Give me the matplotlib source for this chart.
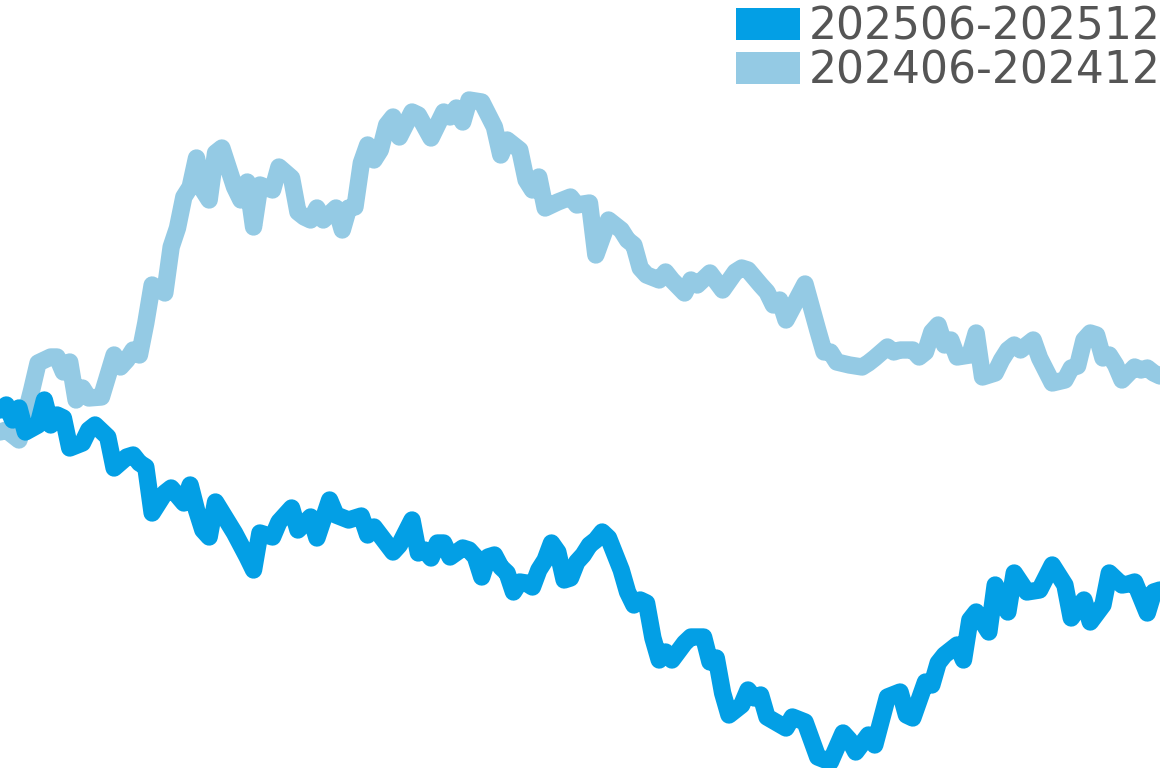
import matplotlib
matplotlib.use("Agg")
import matplotlib.pyplot as plt
from matplotlib.patches import Rectangle

# Series labels and colours
labels = ["202506-202512", "202406-202412"]
colors = ["#039FE5", "#94CAE4"]

# 202406-202412 : day offset from start, cumulative change (%)
days_2024 = [0, 1, 3, 5, 6, 8, 9, 10, 11, 12, 13, 14, 16, 18, 19, 20, 21, 22, 23, 24,
             26, 27, 28, 29, 30, 31, 32, 33, 34, 35, 37, 38, 39, 40, 41, 43, 44, 46, 47, 48,
             49, 50, 51, 53, 54, 55, 56, 57, 58, 59, 60, 61, 62, 63, 65, 66, 68, 70, 71, 72,
             73, 74, 76, 78, 79, 80, 82, 83, 84, 85, 86, 88, 90, 91, 93, 94, 96, 98, 99, 100,
             101, 102, 104, 105, 106, 108, 109, 110, 112, 114, 116, 117, 118, 120, 121, 122, 123, 124, 127, 129,
             130, 131, 132, 134, 136, 137, 138, 140, 141, 142, 144, 145, 146, 147, 148, 149, 150, 151, 153, 154,
             155, 157, 158, 159, 160, 161, 163, 164, 166, 168, 169, 170, 171, 172, 173, 174, 175, 176, 177, 179,
             180, 181, 182, 183]
vals_2024 = [-0.85, -0.75, -1.25, 1.25, 2.60, 2.90, 2.90, 2.15, 2.65, 0.75, 1.35, 0.85, 0.90, 3.00, 2.40, 2.75, 3.25, 3.00, 4.60, 6.50,
             6.10, 8.40, 9.35, 10.90, 11.40, 12.85, 11.25, 10.75, 13.10, 13.35, 11.40, 10.75, 11.65, 9.40, 11.50, 11.25, 12.40, 11.85, 10.15, 9.90,
             9.75, 10.35, 9.75, 10.35, 9.25, 10.35, 10.40, 12.60, 13.50, 12.75, 13.25, 14.50, 14.90, 13.90, 15.15, 15.00, 13.85, 15.15, 14.90, 15.35,
             14.65, 15.75, 15.65, 14.40, 13.00, 13.75, 13.25, 11.75, 11.25, 11.90, 10.35, 10.65, 10.90, 10.50, 10.60, 8.00, 9.75, 9.25, 8.75, 8.50,
             7.35, 7.00, 6.75, 7.15, 6.75, 6.10, 6.75, 6.50, 7.10, 6.25, 7.15, 7.35, 7.25, 6.50, 6.15, 5.50, 5.75, 4.75, 6.55, 4.25,
             3.15, 3.15, 2.65, 2.50, 2.40, 2.60, 2.85, 3.40, 3.15, 3.25, 3.25, 2.90, 3.15, 4.15, 4.50, 3.50, 3.75, 2.90, 3.00, 4.10,
             1.90, 2.10, 2.75, 3.25, 3.50, 3.25, 3.75, 2.85, 1.60, 1.75, 2.35, 2.45, 3.75, 4.10, 4.00, 2.85, 3.00, 2.50, 1.75, 2.40,
             2.25, 2.35, 2.10, 1.95]

# 202506-202512 : day offset from start, cumulative change (%)
days_2025 = [0, 1, 2, 3, 4, 6, 7, 8, 9, 10, 11, 13, 14, 15, 17, 18, 20, 21, 22, 23,
             24, 26, 27, 29, 30, 31, 32, 33, 34, 37, 38, 39, 40, 41, 43, 44, 46, 47, 49, 50,
             52, 53, 55, 57, 58, 59, 62, 63, 65, 66, 67, 68, 69, 70, 71, 73, 74, 75, 76, 77,
             78, 79, 80, 81, 82, 83, 84, 85, 86, 87, 88, 89, 90, 91, 92, 93, 94, 95, 96, 98,
             99, 100, 101, 102, 103, 104, 105, 106, 108, 109, 111, 112, 113, 114, 115, 117, 118, 119, 120, 121,
             124, 125, 127, 129, 131, 133, 134, 135, 137, 138, 140, 142, 143, 144, 146, 147, 148, 149, 151, 152,
             153, 154, 156, 157, 159, 160, 162, 164, 166, 168, 169, 171, 172, 174, 175, 177, 178, 179, 181, 182,
             183]
vals_2025 = [0.25, 0.50, -0.25, 0.35, -0.85, -0.50, 0.75, -0.50, 0.00, -0.15, -1.65, -1.40, -0.75, -0.50, -1.10, -2.65, -2.10, -2.00, -2.40, -2.60,
             -4.90, -3.90, -3.65, -4.40, -3.50, -4.75, -5.75, -6.10, -4.35, -5.90, -6.50, -7.10, -7.75, -5.90, -6.10, -5.35, -4.65, -5.75, -5.10, -6.15,
             -4.25, -5.00, -5.25, -5.05, -6.00, -5.60, -6.85, -6.50, -5.25, -6.90, -6.75, -7.15, -6.40, -6.40, -7.10, -6.65, -6.75, -7.10, -8.10, -7.10,
             -7.00, -7.60, -7.90, -8.85, -8.35, -8.40, -8.60, -7.75, -7.25, -6.40, -6.85, -8.25, -8.15, -7.35, -7.00, -6.50, -6.25, -5.85, -6.15, -7.75,
             -8.85, -9.50, -9.25, -9.40, -11.15, -12.25, -11.85, -12.25, -11.40, -11.10, -11.10, -12.35, -12.15, -13.90, -15.00, -14.50, -13.75, -14.15, -14.00, -15.10,
             -15.65, -15.10, -15.35, -17.10, -17.35, -15.90, -16.25, -16.85, -16.00, -16.50, -14.10, -13.85, -15.00, -15.15, -13.35, -13.50, -12.40, -12.00, -11.50, -12.25,
             -10.25, -9.85, -10.85, -8.50, -9.85, -7.90, -8.85, -8.75, -7.50, -8.50, -10.15, -9.25, -10.35, -9.50, -7.90, -8.50, -8.45, -8.35, -9.90, -8.85,
             -8.75]

W, H = 1160, 768
fig = plt.figure(figsize=(W / 100, H / 100), dpi=100)
ax = fig.add_axes([0, 0, 1, 1])
ax.axis("off")

lw = 12.5
ax.plot(days_2024, vals_2024, color=colors[1], lw=lw, solid_joinstyle="round",
        solid_capstyle="round", zorder=2)
ax.plot(days_2025, vals_2025, color=colors[0], lw=lw, solid_joinstyle="round",
        solid_capstyle="round", zorder=3)
ax.set_xlim(0, 183)
ax.set_ylim(-17.65, 20.75)

# Legend (drawn in figure pixel layout)
rows_top = [8, 52]
for lab, col, top in zip(labels, colors, rows_top):
    fig.patches.append(Rectangle((736 / W, 1 - (top + 32) / H), 64 / W, 32 / H,
                                 transform=fig.transFigure, facecolor=col,
                                 edgecolor="none", zorder=5))
    fig.text(809 / W, 1 - (top + 31.5) / H, lab, fontsize=31.7, color="#555555",
             family="DejaVu Sans", ha="left", va="baseline", zorder=6)

fig.savefig("out.png", dpi=100)
